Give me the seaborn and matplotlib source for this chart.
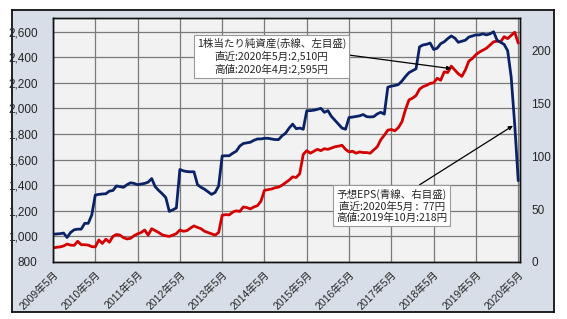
import numpy as np
import pandas as pd
import matplotlib
matplotlib.use("Agg")
import matplotlib.pyplot as plt
import seaborn as sns

sns.set_style("white")
plt.rcParams['font.family'] = ['Liberation Sans', 'Noto Sans CJK JP', 'DejaVu Sans']

# ---- data (monthly, 2009-05 .. 2020-05) ----
bps = [910, 915, 918, 925, 940, 932, 930, 962, 935, 935, 932, 920,
       918, 972, 945, 978, 955, 1000, 1015, 1010, 990, 980, 985, 1005,
       1020, 1030, 1050, 1010, 1060, 1045, 1030, 1012, 1005, 1000, 1010, 1022,
       1050, 1040, 1045, 1065, 1082, 1070, 1060, 1040, 1030, 1020, 1010, 1030,
       1165, 1170, 1168, 1190, 1200, 1195, 1230, 1225, 1215, 1230, 1240, 1275,
       1360, 1365, 1370, 1380, 1385, 1400, 1420, 1440, 1465, 1460, 1490, 1640,
       1670, 1650, 1665, 1680, 1670, 1685, 1680, 1690, 1700, 1705, 1712, 1680,
       1660, 1665, 1650, 1660, 1655, 1655, 1650, 1675, 1700, 1755, 1790, 1830,
       1835, 1825, 1850, 1895, 1990, 2066, 2080, 2100, 2150, 2170, 2180, 2195,
       2200, 2235, 2220, 2285, 2280, 2330, 2300, 2270, 2250, 2300, 2370, 2390,
       2420, 2440, 2455, 2470, 2495, 2520, 2525, 2520, 2560, 2545, 2570, 2595,
       2510]
eps = [26.3, 26.6, 26.8, 27.4, 23.2, 28.0, 30.5, 31.1, 31.1, 36.6, 36.6, 44.5,
       63.4, 64.0, 64.4, 64.6, 67.1, 67.7, 72.0, 71.3, 70.7, 73.2, 75.0, 74.4,
       73.2, 73.8, 74.4, 75.6, 79.0, 71.3, 67.7, 64.6, 61.0, 47.9, 49.4, 51.2,
       87.6, 86.3, 85.6, 85.4, 85.4, 73.2, 70.7, 68.9, 66.5, 64.0, 65.9, 72.0,
       100.4, 100.6, 100.6, 103.0, 104.9, 109.8, 112.2, 112.8, 113.4, 115.2, 116.5, 116.5,
       117.1, 117.1, 116.5, 115.9, 115.9, 119.5, 122.0, 126.8, 130.5, 126.2, 126.8, 125.7,
       143.2, 143.3, 143.7, 144.5, 145.5, 141.7, 143.3, 137.8, 134.1, 130.5, 126.8, 125.7,
       136.8, 137.2, 137.8, 138.4, 139.6, 137.6, 137.3, 137.6, 140.2, 141.7, 140.0, 165.5,
       166.5, 167.1, 168.0, 171.3, 175.6, 179.3, 181.1, 182.9, 203.7, 205.5, 206.1, 207.3,
       201.2, 202.4, 206.7, 208.5, 211.5, 214.0, 212.0, 208.0, 209.0, 210.0, 213.0, 214.0,
       215.0, 215.0, 216.0, 215.0, 216.0, 218.0, 210.0, 208.0, 206.0, 200.0, 175.0, 130.0,
       77.0]
x_labels = ["2009年5月", "2010年5月", "2011年5月", "2012年5月", "2013年5月", "2014年5月",
            "2015年5月", "2016年5月", "2017年5月", "2018年5月", "2019年5月", "2020年5月"]
left_ticks = [800, 1000, 1200, 1400, 1600, 1800, 2000, 2200, 2400, 2600]
right_ticks = [0, 50, 100, 150, 200]
bps_note = "1株当たり純資産(赤線、左目盛)\n直近:2020年5月:2,510円\n高値:2020年4月:2,595円"
eps_note = "予想EPS(青線、右目盛)\n直近:2020年5月 :  77円\n高値:2019年10月:218円"

df = pd.DataFrame({"m": np.arange(len(bps)), "bps": bps, "eps": eps})

W, H = 567, 319
fig = plt.figure(figsize=(W / 100, H / 100), dpi=100)
fig.patch.set_facecolor("white")

# outer panel
bg = fig.add_axes([12 / W, 1 - 312 / H, (554 - 12) / W, (312 - 10) / H], zorder=-5)
bg.set_facecolor("#d7dee8")
bg.set_xticks([])
bg.set_yticks([])
for sp in bg.spines.values():
    sp.set_color("#111111")
    sp.set_linewidth(1.3)

ax = fig.add_axes([53 / W, 1 - 262 / H, (520 - 53) / W, (262 - 18) / H], zorder=1)
ax.set_facecolor("#f2f2f2")
ax2 = ax.twinx()
ax2.patch.set_visible(False)

sns.lineplot(data=df, x="m", y="bps", ax=ax, color="#d40000", lw=2.0)
sns.lineplot(data=df, x="m", y="eps", ax=ax2, color="#0a2366", lw=2.0)

ax.set_xlim(0, 132.5)
ax.set_ylim(800, 2706)
ax2.set_ylim(0, 231)

ax.set_xticks(np.arange(0, 133, 12))
ax.set_xticklabels(x_labels, rotation=45, ha="right", rotation_mode="anchor",
                   fontsize=7.5)
ax.set_yticks(left_ticks)
ax.set_yticklabels([f"{v:,}" for v in left_ticks], fontsize=8.5)
ax2.set_yticks(right_ticks)
ax2.set_yticklabels([str(v) for v in right_ticks], fontsize=8.5)
ax.tick_params(axis="x", length=0, pad=5)
ax.tick_params(axis="y", length=0, pad=11)
ax2.tick_params(axis="y", length=0, pad=8)
ax.set_xlabel("")
ax.set_ylabel("")
ax2.set_ylabel("")

ax.grid(True, color="#7a7a7a", lw=0.9)
for sp in list(ax.spines.values()) + list(ax2.spines.values()):
    sp.set_color("#111111")
    sp.set_linewidth(1.0)

note_font = ['Noto Sans CJK JP', 'DejaVu Sans']
box = dict(boxstyle="square,pad=0.3", fc="white", ec="#9a9a9a", lw=0.8)
ax2.annotate(bps_note, xy=(113, (2310 - 800) / 8.25), xycoords="data",
             xytext=(0.468, 0.842), textcoords="axes fraction",
             ha="center", va="center", fontsize=7.6, linespacing=1.2, bbox=box,
             family=note_font,
             arrowprops=dict(arrowstyle="-|>", color="black", lw=0.9,
                             relpos=(1.0, 0.55), shrinkA=0, shrinkB=0,
                             mutation_scale=6),
             zorder=10)
ax2.annotate(eps_note, xy=(130.5, 129), xycoords="data",
             xytext=(0.725, 0.23), textcoords="axes fraction",
             ha="center", va="center", fontsize=7.6, linespacing=1.2, bbox=box,
             family=note_font,
             arrowprops=dict(arrowstyle="-|>", color="black", lw=0.9,
                             relpos=(0.7, 1.0), shrinkA=0, shrinkB=0,
                             mutation_scale=6),
             zorder=10)

fig.savefig("out.png", dpi=100, facecolor=fig.get_facecolor())
